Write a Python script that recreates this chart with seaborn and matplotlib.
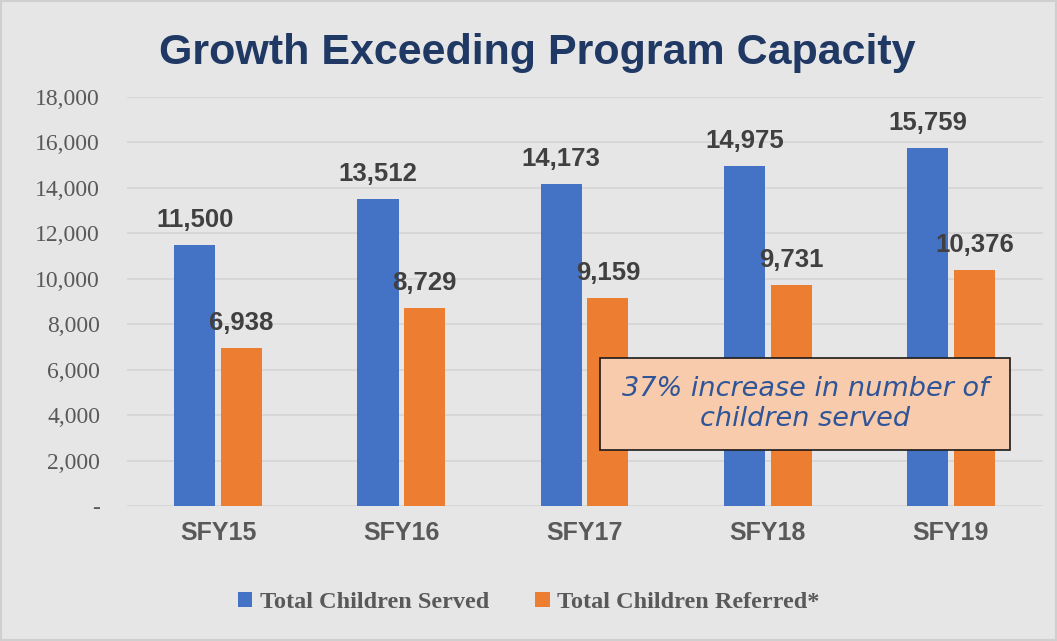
import pandas as pd
import numpy as np
import matplotlib.pyplot as plt
import seaborn as sns
from matplotlib.patches import Rectangle

# Data
years = ['SFY15', 'SFY16', 'SFY17', 'SFY18', 'SFY19']
served = [11500, 13512, 14173, 14975, 15759]
referred = [6938, 8729, 9159, 9731, 10376]
series_names = ['Total Children Served', 'Total Children Referred*']
colors = ['#4472c4', '#ed7d31']

df = pd.DataFrame({
    'year': years * 2,
    'value': served + referred,
    'series': [series_names[0]] * len(years) + [series_names[1]] * len(years),
})

sns.set_style('white')
bg = '#e6e6e6'

fig = plt.figure(figsize=(10.57, 6.41), dpi=100, facecolor=bg)
fig.patches.append(Rectangle((0, 0), 1, 1, transform=fig.transFigure,
                             facecolor='none', edgecolor='#cfcfcf', linewidth=3))
ax = fig.add_axes([0.1197, 0.2106, 0.8666, 0.6381])
ax.set_facecolor(bg)

sns.barplot(data=df, x='year', y='value', hue='series', palette=colors,
            width=0.51, gap=0.12, ax=ax, legend=True, saturation=1, linewidth=0)

ax.set_ylim(0, 18000)
ax.set_yticks(np.arange(0, 18001, 2000))
ax.set_yticklabels(['-'] + [f'{v:,}' for v in range(2000, 18001, 2000)],
                   fontfamily='Liberation Serif', fontsize=17, color='#595959')
ax.yaxis.grid(True, color='#d4d4d4', linewidth=1.2)
ax.set_axisbelow(True)
ax.tick_params(axis='y', length=0, pad=19)
ax.tick_params(axis='x', length=0, pad=11)
for lbl in ax.get_xticklabels():
    lbl.set_fontfamily('Liberation Sans')
    lbl.set_fontweight('bold')
    lbl.set_fontsize(18)
    lbl.set_color('#595959')
ax.set_xlabel('')
ax.set_ylabel('')
sns.despine(ax=ax, left=True, bottom=True)

# value labels above bars
for container in ax.containers:
    for bar in container:
        h = bar.get_height()
        ax.annotate(f'{h:,.0f}', (bar.get_x() + bar.get_width() / 2, h),
                    xytext=(0, 18), textcoords='offset points',
                    ha='center', va='center', fontfamily='Liberation Sans',
                    fontweight='bold', fontsize=18.5, color='#404040')

# legend at bottom
handles, labels = ax.get_legend_handles_labels()
ax.legend_.remove()
fig.legend(handles, labels, loc='center', bbox_to_anchor=(0.5, 0.06), ncol=2,
           frameon=False, handlelength=0.6, handleheight=0.6, handletextpad=0.3,
           columnspacing=1.9,
           prop={'family': 'Liberation Serif', 'weight': 'bold', 'size': 17.5})
for t in fig.legends[0].get_texts():
    t.set_color('#595959')

fig.text(0.508, 0.918, 'Growth Exceeding Program Capacity', ha='center', va='center',
         fontfamily='Liberation Sans', fontweight='bold', fontsize=31, color='#1f3864')

# callout box
box_l, box_b, box_w, box_h = 600 / 1057, 1 - 450 / 641, 410 / 1057, 92 / 641
fig.patches.append(Rectangle((box_l, box_b), box_w, box_h, transform=fig.transFigure,
                             facecolor='#f8cbad', edgecolor='#1a1a1a', linewidth=1.2,
                             zorder=5))
fig.text(box_l + box_w / 2, box_b + box_h / 2,
         '37% increase in number of\nchildren served', ha='center', va='center',
         fontfamily='DejaVu Sans', fontstyle='italic', fontsize=19.5, color='#2f5597',
         linespacing=1.25, zorder=6)

fig.savefig('out.png', dpi=100, facecolor=bg)
